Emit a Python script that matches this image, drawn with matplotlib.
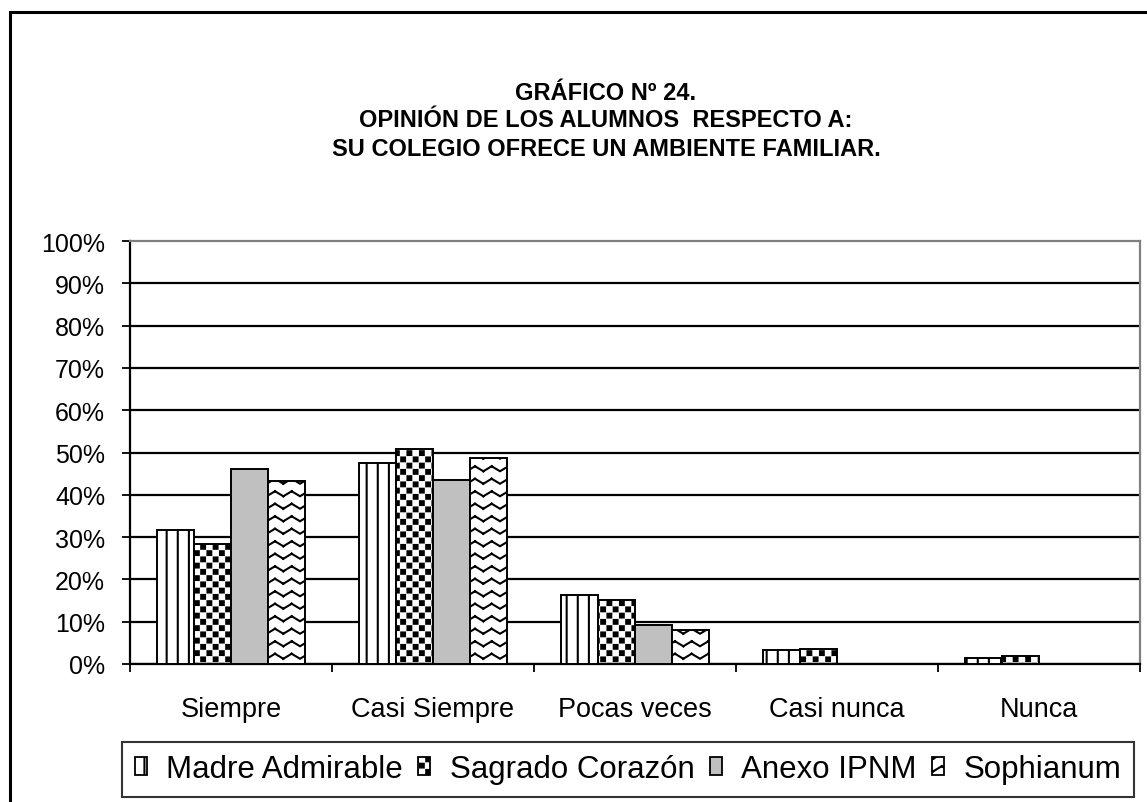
import warnings
warnings.filterwarnings("ignore")
import numpy as np
import matplotlib
matplotlib.use("Agg")
import matplotlib.pyplot as plt
from matplotlib import hatch as mhatch
from matplotlib.path import Path
from matplotlib.patches import Rectangle, Patch

# ---------------- data ----------------
categories = ["Siempre", "Casi Siempre", "Pocas veces", "Casi nunca", "Nunca"]
series_names = ["Madre Admirable", "Sagrado Corazón", "Anexo IPNM", "Sophianum"]
madre_admirable = [31.7, 47.4, 16.2, 3.4, 1.4]
sagrado_corazon = [28.4, 50.8, 15.1, 3.5, 1.9]
anexo_ipnm = [46.1, 43.6, 9.3, 0.0, 0.0]
sophianum = [43.3, 48.7, 8.1, 0.0, 0.0]
y_ticks = [0, 10, 20, 30, 40, 50, 60, 70, 80, 90, 100]
title_lines = ["GRÁFICO Nº 24.",
               "OPINIÓN DE LOS ALUMNOS  RESPECTO A:",
               "SU COLEGIO OFRECE UN AMBIENTE FAMILIAR."]


# ---------------- custom hatch patterns ----------------
class VLines(mhatch.HatchPatternBase):
    def __init__(self, hatch, density):
        self.num_lines = hatch.count('v') * 3
        self.num_vertices = self.num_lines * 2

    def set_vertices_and_codes(self, vertices, codes):
        steps = np.linspace(0.0, 1.0, self.num_lines, False)
        vertices[0::2, 0] = steps
        vertices[0::2, 1] = 0.0
        vertices[1::2, 0] = steps
        vertices[1::2, 1] = 1.0
        codes[0::2] = Path.MOVETO
        codes[1::2] = Path.LINETO


class ZigZag(mhatch.HatchPatternBase):
    def __init__(self, hatch, density):
        n = hatch.count('z')
        self.num_rows = n * 4
        self.num_segs = 12
        self.num_vertices = self.num_rows * self.num_segs * 2

    def set_vertices_and_codes(self, vertices, codes):
        xs = np.linspace(0, 1, self.num_segs + 1)
        amp = 0.4 / self.num_rows
        ys = np.where(np.arange(self.num_segs + 1) % 2 == 0, 0.0, amp)
        k = 0
        for r in range(self.num_rows):
            y0 = (r + 0.3) / self.num_rows
            for s in range(self.num_segs):
                vertices[k] = [xs[s], y0 + ys[s]]
                vertices[k + 1] = [xs[s + 1], y0 + ys[s + 1]]
                codes[k] = Path.MOVETO
                codes[k + 1] = Path.LINETO
                k += 2


class SquareDots(mhatch.HatchPatternBase):
    def __init__(self, hatch, density):
        n = hatch.count('q')
        self.ncols = 8 * n
        self.nrows = 16 * n
        self.num_vertices = self.ncols * self.nrows * 5

    def set_vertices_and_codes(self, vertices, codes):
        s = 0.038
        sq = (Path.unit_rectangle().vertices - 0.5) * s
        sqc = Path.unit_rectangle().codes
        k = 0
        for r in range(self.nrows):
            shift = 0.75 if r % 2 else 0.25
            for c in range(self.ncols):
                cx = (c + shift) / self.ncols
                cy = (r + 0.5) / self.nrows
                vertices[k:k + 5] = sq + [cx, cy]
                codes[k:k + 5] = sqc
                k += 5


mhatch._hatch_types.extend([VLines, ZigZag, SquareDots])

# ---------------- style ----------------
plt.rcParams['font.family'] = ['Liberation Sans', 'DejaVu Sans']
plt.rcParams['hatch.linewidth'] = 1.5
plt.rcParams['hatch.color'] = 'black'

W, H = 1147, 803
fig = plt.figure(figsize=(W / 100, H / 100), dpi=100)
ax = fig.add_axes([130 / W, 1 - 665 / H, (1140 - 130) / W, (665 - 242) / H])

values = [madre_admirable, sagrado_corazon, anexo_ipnm, sophianum]
fills = ['white', 'white', '#C0C0C0', 'white']
hatches = ['vvv', 'q', None, 'zz']

x = np.arange(len(categories))
bw = 0.183
for i, (vals, fc, h) in enumerate(zip(values, fills, hatches)):
    ax.bar(x + (i - 1.5) * bw, vals, width=bw, facecolor=fc, edgecolor='black',
           linewidth=1.4, hatch=h, zorder=3)

ax.set_xlim(-0.5, len(categories) - 0.5)
ax.set_ylim(0, 100)
ax.set_yticks(y_ticks)
ax.set_yticklabels([f"{t}%" for t in y_ticks], fontsize=18)
ax.yaxis.grid(True, color='black', linewidth=1.6, zorder=0)
ax.set_axisbelow(True)
ax.get_ygridlines()[-1].set_visible(False)

ax.set_xticks(x)
ax.set_xticklabels(categories, fontsize=19.5)
ax.set_xticks(np.arange(len(categories) + 1) - 0.5, minor=True)
ax.tick_params(axis='x', which='major', length=0, pad=23)
ax.tick_params(axis='x', which='minor', length=6, width=1.3, direction='out')
ax.tick_params(axis='y', which='major', length=6, width=1.3, direction='out', pad=12)

for side in ['left', 'bottom']:
    ax.spines[side].set_color('black')
    ax.spines[side].set_linewidth(1.6)
for side in ['top', 'right']:
    ax.spines[side].set_color('#808080')
    ax.spines[side].set_linewidth(1.6)

# title
for j, line in enumerate(title_lines):
    fig.text(606 / W, 1 - (93 + 28 * j) / H, line, ha='center', va='center',
             fontsize=17, fontweight='bold')

# legend
handles = [Patch(facecolor=fc, edgecolor='black', linewidth=1.3, hatch=h)
           for fc, h in zip(fills, hatches)]
leg = fig.legend(handles, series_names, loc='center', ncol=4,
                 bbox_to_anchor=(628 / W, 1 - 770 / H), fontsize=22.5,
                 frameon=True, fancybox=False, shadow=False,
                 handlelength=0.38, handleheight=0.55, handletextpad=0.62,
                 columnspacing=0.5, borderpad=0.4, borderaxespad=0)
leg.get_frame().set_edgecolor('black')
leg.get_frame().set_linewidth(1.5)

# outer border of the chart area
fig.patches.append(Rectangle((10 / W, -0.1), 2.0, 1 - 13 / H + 0.1,
                             transform=fig.transFigure, fill=False,
                             edgecolor='black', linewidth=2.2, clip_on=False))

fig.savefig("out.png", dpi=100)
